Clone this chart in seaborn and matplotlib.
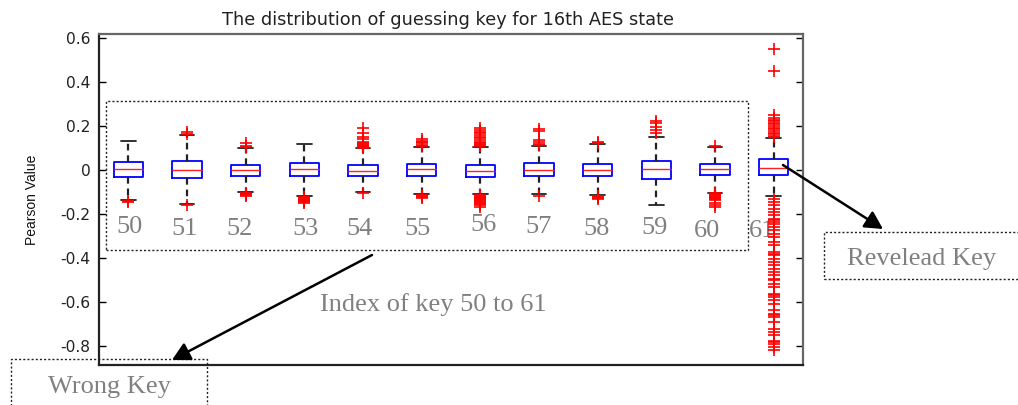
import matplotlib
matplotlib.use("Agg")
import matplotlib.pyplot as plt
import seaborn as sns
from matplotlib.patches import Rectangle

# ---------------- data ----------------
keys = ["50", "51", "52", "53", "54", "55", "56", "57", "58", "59", "60", "61"]
q1 = [-0.032, -0.036, -0.027, -0.027, -0.027, -0.027, -0.032, -0.027, -0.027, -0.041, -0.024, -0.023]
median = [0.006, 0.001, 0.000, 0.006, -0.005, 0.006, -0.005, 0.003, 0.000, 0.006, 0.006, 0.011]
q3 = [0.036, 0.042, 0.024, 0.033, 0.023, 0.029, 0.023, 0.033, 0.029, 0.042, 0.029, 0.049]
whisker_low = [-0.136, -0.152, -0.100, -0.118, -0.098, -0.108, -0.109, -0.110, -0.113, -0.159, -0.102, -0.118]
whisker_high = [0.133, 0.160, 0.099, 0.120, 0.099, 0.105, 0.106, 0.112, 0.120, 0.152, 0.104, 0.144]
outliers = [
    [-0.138, -0.143],
    [0.165, 0.175, -0.160],
    [0.104, 0.112, 0.122, -0.103, -0.106, -0.109, -0.112, -0.116],
    [-0.122, -0.126, -0.130, -0.133, -0.136, -0.140, -0.145, -0.150],
    [0.190, 0.167, 0.152, 0.141, 0.130, 0.125, 0.120, 0.115, 0.112, 0.108, 0.104, 0.101, -0.104],
    [0.140, 0.134, 0.128, 0.122, 0.116, 0.111, -0.112, -0.117, -0.121, -0.126],
    [0.190, 0.182, 0.175, 0.167, 0.160, 0.152, 0.145, 0.138, 0.130, 0.124, 0.118, 0.113, 0.108,
     -0.112, -0.116, -0.120, -0.124, -0.128, -0.132, -0.136, -0.140, -0.145, -0.150, -0.155, -0.160, -0.167],
    [0.185, 0.178, 0.135, 0.128, 0.121, 0.116, -0.116],
    [0.128, 0.124, -0.117, -0.121, -0.126, -0.131],
    [0.222, 0.212, 0.197, 0.182, 0.167],
    [0.112, -0.104, -0.107, -0.110, -0.113, -0.116, -0.120, -0.124, -0.128, -0.132, -0.136, -0.147, -0.158, -0.168],
    [0.551, 0.451, 0.250, 0.238, 0.230, 0.222, 0.215, 0.208, 0.200, 0.193, 0.186, 0.178, 0.170, 0.163, 0.156, 0.150,
     -0.129, -0.144, -0.159, -0.174, -0.189, -0.205, -0.220, -0.227, -0.235, -0.242, -0.258, -0.273, -0.288,
     -0.303, -0.326, -0.341, -0.371, -0.379, -0.386, -0.402, -0.417, -0.432, -0.447, -0.462, -0.477, -0.492,
     -0.500, -0.515, -0.530, -0.561, -0.568, -0.576, -0.591, -0.606, -0.636, -0.652, -0.659, -0.667, -0.689,
     -0.720, -0.735, -0.750, -0.773, -0.780, -0.788, -0.803, -0.818],
]
ytick_values = [-0.8, -0.6, -0.4, -0.2, 0.0, 0.2, 0.4, 0.6]
ytick_labels = ["-0.8", "-0.6", "-0.4", "-0.2", "0", "0.2", "0.4", "0.6"]
title = "The distribution of guessing key for 16th AES state"
ylabel = "Pearson Value"

# ---------------- style ----------------
sns.set_theme(style="white")
plt.rcParams["font.family"] = ["DejaVu Sans"]

W, H = 1018, 405
fig = plt.figure(figsize=(W / 100, H / 100), dpi=100)
fig.patch.set_facecolor("white")

def fx(x):
    return x / W

def fy(y):
    return 1 - y / H

ax = fig.add_axes([fx(99), fy(365), 704 / W, 331 / H])
ax.set_facecolor("white")

stats = []
for i, k in enumerate(keys):
    stats.append(dict(label=k, q1=q1[i], med=median[i], q3=q3[i],
                      whislo=whisker_low[i], whishi=whisker_high[i], fliers=outliers[i]))

positions = list(range(1, len(keys) + 1))
ax.bxp(stats, positions=positions, widths=0.5, capwidths=0.25, showfliers=True,
       boxprops=dict(color="#0000ff", linewidth=1.3),
       medianprops=dict(color="#ff2020", linewidth=1.0),
       whiskerprops=dict(color="#222222", linewidth=1.6, linestyle=(0, (3, 2.2))),
       capprops=dict(color="#222222", linewidth=1.3),
       flierprops=dict(marker="+", markeredgecolor="#ff0000", markersize=9, markeredgewidth=1.2,
                       linestyle="none"))

ax.set_xlim(0.5, 12.5)
ax.set_ylim(-0.884, 0.618)
ax.set_xticks([])
ax.set_yticks(ytick_values)
ax.set_yticklabels(ytick_labels)
ax.tick_params(axis="y", which="both", direction="in", length=5, width=1, color="black",
               left=True, right=True, labelsize=11.2, pad=6, labelcolor="#222222")
for side in ["left", "bottom"]:
    ax.spines[side].set_color("#222222")
    ax.spines[side].set_linewidth(1.6)
for side in ["top", "right"]:
    ax.spines[side].set_color("#666666")
    ax.spines[side].set_linewidth(1.6)

fig.text(fx(448), fy(25), title, ha="center", va="baseline", fontsize=12.8, color="#222222")
fig.text(fx(32), fy(200), ylabel, rotation=90, ha="center", va="center", fontsize=10,
         family=["Liberation Sans Narrow", "Liberation Sans", "DejaVu Sans"], color="#111111")

# ---------------- annotations ----------------
grey = "#808080"
serif = ["Liberation Serif", "DejaVu Serif"]
label_px = [(130, 233), (185, 235), (240, 235), (306, 235), (360, 235), (417, 235),
            (483, 231), (539, 233), (597, 235), (655, 234), (707, 237), (762, 237)]
for k, (px, py) in zip(keys, label_px):
    ax.text(fx(px), fy(py), k, transform=fig.transFigure, ha="center", va="baseline",
            fontsize=19, color=grey, family=serif, zorder=1, clip_on=False)

def dotted_rect(x0, y0, x1, y1):
    r = Rectangle((fx(x0), fy(y1)), (x1 - x0) / W, (y1 - y0) / H, transform=fig.transFigure,
                  fill=False, edgecolor="#222222", linewidth=1.0, linestyle=(0, (1.5, 1.5)),
                  clip_on=False, zorder=1)
    ax.add_patch(r)

dotted_rect(106, 101, 748, 250)
dotted_rect(11, 359, 207, 420)
dotted_rect(824, 232, 1040, 279)

ax.text(fx(433), fy(311), "Index of key 50 to 61", transform=fig.transFigure, ha="center",
        va="baseline", fontsize=19, color=grey, family=serif, clip_on=False)
ax.text(fx(109), fy(393), "Wrong Key", transform=fig.transFigure, ha="center",
        va="baseline", fontsize=19, color=grey, family=serif, clip_on=False)
ax.text(fx(922), fy(265), "Revelead Key", transform=fig.transFigure, ha="center",
        va="baseline", fontsize=19, color=grey, family=serif, clip_on=False)

arrow = dict(arrowstyle="-|>,head_length=0.6,head_width=0.32", color="black", linewidth=1.8,
             mutation_scale=18, shrinkA=0, shrinkB=0)
ax.annotate("", xy=(fx(172), fy(360)), xytext=(fx(372), fy(255)), xycoords="figure fraction",
            textcoords="figure fraction", arrowprops=arrow, annotation_clip=False)
ax.annotate("", xy=(fx(883), fy(229)), xytext=(fx(783), fy(165)), xycoords="figure fraction",
            textcoords="figure fraction", arrowprops=arrow, annotation_clip=False)

fig.savefig("out.png", dpi=100, facecolor="white")
